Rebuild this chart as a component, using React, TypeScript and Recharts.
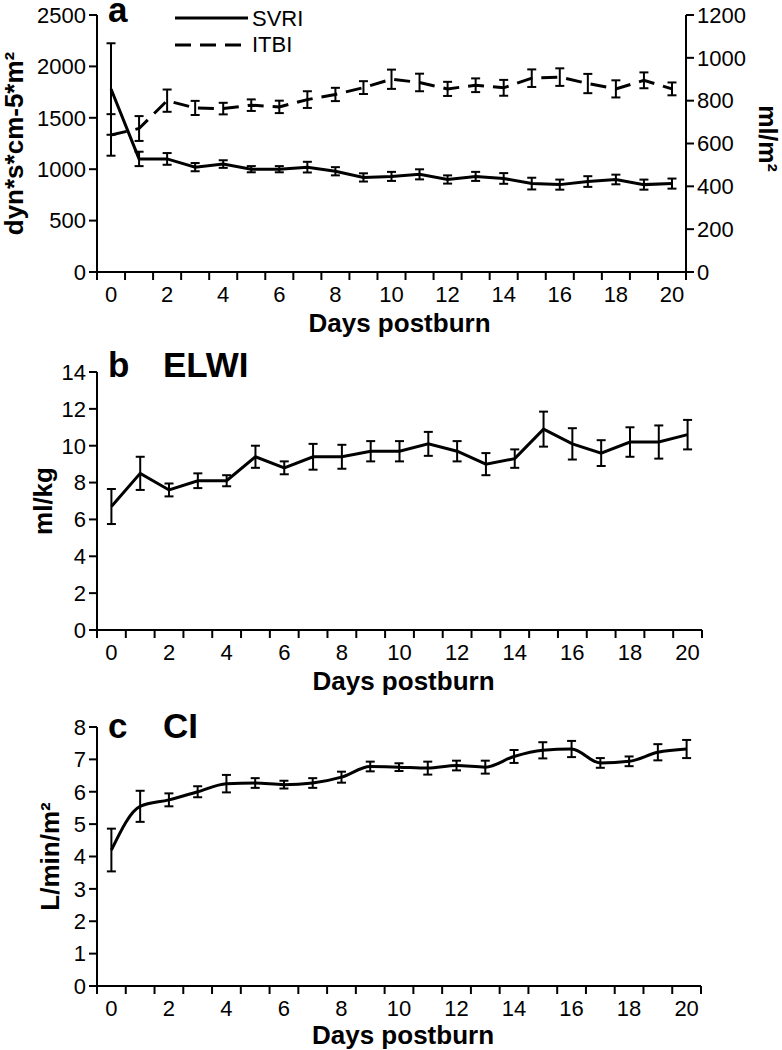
import React from "react";
import { ErrorBar, Legend, Line, LineChart, XAxis, YAxis } from "recharts";

const font = "'Liberation Sans', Arial, Helvetica, sans-serif";

// days postburn
const days = [0, 1, 2, 3, 4, 5, 6, 7, 8, 9, 10, 11, 12, 13, 14, 15, 16, 17, 18, 19, 20];
const dayLabels = [0, 2, 4, 6, 8, 10, 12, 14, 16, 18, 20];

// panel a
const seriesA = ["SVRI", "ITBI"];
const svriMean = [1780, 1100, 1100, 1020, 1050, 1000, 1000, 1020, 980, 920, 930, 950, 900, 930, 910, 860, 850, 880, 900, 850, 860];
const svriErr = [445, 70, 57, 40, 37, 30, 30, 52, 40, 40, 44, 49, 40, 44, 52, 57, 49, 52, 47, 49, 49];
const itbiMean = [640, 670, 800, 766, 763, 779, 771, 805, 829, 861, 900, 885, 855, 872, 860, 905, 910, 880, 855, 895, 855];
const itbiErr = [97, 58, 52, 33, 27, 27, 29, 39, 31, 30, 45, 41, 33, 32, 37, 41, 41, 45, 40, 37, 30];
const leftTicksA = [0, 500, 1000, 1500, 2000, 2500];
const rightTicksA = [0, 200, 400, 600, 800, 1000, 1200];

// panel b
const elwiMean = [6.7, 8.5, 7.6, 8.1, 8.1, 9.4, 8.8, 9.4, 9.4, 9.7, 9.7, 10.1, 9.7, 9.0, 9.3, 10.9, 10.1, 9.6, 10.2, 10.2, 10.6];
const elwiErr = [0.95, 0.9, 0.35, 0.4, 0.3, 0.6, 0.35, 0.7, 0.65, 0.55, 0.55, 0.65, 0.55, 0.6, 0.5, 0.95, 0.85, 0.7, 0.8, 0.9, 0.8];
const ticksB = [0, 2, 4, 6, 8, 10, 12, 14];

// panel c
const ciMean = [4.2, 5.55, 5.75, 6.0, 6.25, 6.27, 6.22, 6.27, 6.45, 6.78, 6.76, 6.73, 6.81, 6.76, 7.09, 7.28, 7.32, 6.89, 6.94, 7.22, 7.32];
const ciErr = [0.66, 0.48, 0.2, 0.17, 0.27, 0.15, 0.12, 0.15, 0.17, 0.15, 0.12, 0.2, 0.15, 0.2, 0.2, 0.25, 0.25, 0.15, 0.15, 0.25, 0.28];
const ticksC = [0, 1, 2, 3, 4, 5, 6, 7, 8];

const dataA = days.map((d, i) => ({ day: d, svri: svriMean[i], svriErr: svriErr[i], itbi: itbiMean[i], itbiErr: itbiErr[i] }));
const dataB = days.map((d, i) => ({ day: d, elwi: elwiMean[i], err: elwiErr[i] }));
const dataC = days.map((d, i) => ({ day: d, ci: ciMean[i], err: ciErr[i] }));

// tick marks sit between days, labels on even days
const boundaries = [days[0] - 0.5, ...days.map((d) => d + 0.5)];
const xTicks = [...boundaries, ...dayLabels].sort((a, b) => a - b);

const DayTick = (props: any) => {
  const { x, y, payload } = props;
  const v = payload.value;
  if (!Number.isInteger(v)) {
    return <line x1={x} y1={y} x2={x} y2={y + 8} stroke="#000" strokeWidth={2} />;
  }
  if (!dayLabels.includes(v)) return <g />;
  return (
    <text x={x} y={y + 30} textAnchor="middle" fontSize={22} fill="#000" fontFamily={font}>
      {v}
    </text>
  );
};

const BottomTitle = (props: any) => {
  const vb = props.viewBox || { x: 0, y: 0, width: 0, height: 0 };
  return (
    <text x={vb.x + vb.width / 2 + (props.shift || 0)} y={vb.y + props.dy} textAnchor="middle" fontSize={26} fontWeight="bold" fill="#000" fontFamily={font}>
      Days postburn
    </text>
  );
};

const LeftTitle = (props: any) => {
  const vb = props.viewBox || { x: 0, y: 0, width: 0, height: 0 };
  const { unit, baseX, letter, title, headDy } = props;
  const cy = vb.y + vb.height / 2;
  const right = vb.x + vb.width;
  return (
    <g fontFamily={font} fill="#000" fontWeight="bold">
      <text transform={`translate(${baseX},${cy}) rotate(-90)`} textAnchor="middle" fontSize={26}>
        {unit}
      </text>
      <text x={right + 11} y={vb.y + headDy} fontSize={35}>
        {letter}
      </text>
      {title ? (
        <text x={right + 66} y={vb.y + headDy} fontSize={35}>
          {title}
        </text>
      ) : null}
    </g>
  );
};

const RightTitle = (props: any) => {
  const vb = props.viewBox || { x: 0, y: 0, width: 0, height: 0 };
  const cy = vb.y + vb.height / 2 - 5;
  return (
    <text transform={`translate(${vb.x + 73},${cy}) rotate(90)`} textAnchor="middle" fontSize={25} fontWeight="bold" fill="#000" fontFamily={font}>
      ml/m²
    </text>
  );
};

const SeriesKey = (props: any) => {
  const items = [...(props.payload || [])].sort((a: any, b: any) => seriesA.indexOf(a.value) - seriesA.indexOf(b.value));
  return (
    <svg width={220} height={60} style={{ display: "block" }}>
      {items.map((p: any, i: number) => (
        <g key={p.value}>
          <line x1={5} y1={18 + i * 27} x2={78} y2={18 + i * 27} stroke="#000" strokeWidth={3} strokeDasharray={p.payload?.strokeDasharray} />
          <text x={82} y={26 + i * 26} fontSize={22} fill="#000" fontFamily={font}>
            {p.value}
          </text>
        </g>
      ))}
    </svg>
  );
};

const axisLine = { stroke: "#000", strokeWidth: 2 };
const tickLine = { stroke: "#000", strokeWidth: 2 };
const yTick = { fontSize: 22, fill: "#000", fontFamily: font };

const DaysAxis = (dy: number, height: number, shift = 0) => (
  <XAxis
    dataKey="day"
    type="number"
    domain={[-0.5, 20.5]}
    ticks={xTicks}
    interval={0}
    tick={<DayTick />}
    tickLine={false}
    tickSize={0}
    tickMargin={0}
    axisLine={axisLine}
    height={height}
    label={<BottomTitle dy={dy} shift={shift} />}
  />
);

export default function App() {
  return (
    <div style={{ position: "absolute", left: 0, top: 0, width: 782, height: 1050, background: "#fff" }}>
      <div style={{ position: "absolute", left: 0, top: 0 }}>
        <LineChart width={782} height={340} data={dataA} margin={{ top: 15, right: 0, bottom: 0, left: 0 }}>
          {DaysAxis(60, 68, 8)}
          <YAxis
            yAxisId="left"
            domain={[0, 2500]}
            ticks={leftTicksA}
            interval={0}
            width={97}
            tick={yTick}
            tickSize={8}
            tickMargin={3}
            tickLine={tickLine}
            axisLine={axisLine}
            label={<LeftTitle unit="dyn*s*cm-5*m²" baseX={23} letter="a" headDy={7} />}
          />
          <YAxis
            yAxisId="right"
            orientation="right"
            domain={[0, 1200]}
            ticks={rightTicksA}
            interval={0}
            width={96}
            tick={yTick}
            tickSize={8}
            tickMargin={3}
            tickLine={tickLine}
            axisLine={axisLine}
            label={<RightTitle />}
          />
          <Legend
            layout="vertical"
            align="center"
            verticalAlign="middle"
            content={<SeriesKey />}
            wrapperStyle={{ position: "absolute", left: 170, top: 0, width: 220, height: 60 }}
          />
          <Line yAxisId="left" name="SVRI" dataKey="svri" stroke="#000" strokeWidth={3} dot={false} isAnimationActive={false}>
            <ErrorBar dataKey="svriErr" width={4.5} stroke="#000" strokeWidth={2} direction="y" isAnimationActive={false} />
          </Line>
          <Line yAxisId="right" name="ITBI" dataKey="itbi" stroke="#000" strokeWidth={3} strokeDasharray="16 9" dot={false} isAnimationActive={false}>
            <ErrorBar dataKey="itbiErr" width={4.5} stroke="#000" strokeWidth={2} direction="y" isAnimationActive={false} />
          </Line>
        </LineChart>
      </div>

      <div style={{ position: "absolute", left: 0, top: 340 }}>
        <LineChart width={782} height={360} data={dataB} margin={{ top: 32, right: 80, bottom: 0, left: 0 }}>
          {DaysAxis(60, 70, 4)}
          <YAxis
            domain={[0, 14]}
            ticks={ticksB}
            interval={0}
            width={97}
            tick={yTick}
            tickSize={8}
            tickMargin={3}
            tickLine={tickLine}
            axisLine={axisLine}
            label={<LeftTitle unit="ml/kg" baseX={52} letter="b" title="ELWI" headDy={5} />}
          />
          <Line name="ELWI" dataKey="elwi" stroke="#000" strokeWidth={3} dot={false} isAnimationActive={false}>
            <ErrorBar dataKey="err" width={4.5} stroke="#000" strokeWidth={2} direction="y" isAnimationActive={false} />
          </Line>
        </LineChart>
      </div>

      <div style={{ position: "absolute", left: 0, top: 700 }}>
        <LineChart width={782} height={350} data={dataC} margin={{ top: 27, right: 81, bottom: 0, left: 0 }}>
          {DaysAxis(58, 64, 4)}
          <YAxis
            domain={[0, 8]}
            ticks={ticksC}
            interval={0}
            width={97}
            tick={yTick}
            tickSize={8}
            tickMargin={3}
            tickLine={tickLine}
            axisLine={axisLine}
            label={<LeftTitle unit="L/min/m²" baseX={59} letter="c" title="CI" headDy={11} />}
          />
          <Line type="monotone" name="CI" dataKey="ci" stroke="#000" strokeWidth={3} dot={false} isAnimationActive={false}>
            <ErrorBar dataKey="err" width={4.5} stroke="#000" strokeWidth={2} direction="y" isAnimationActive={false} />
          </Line>
        </LineChart>
      </div>
    </div>
  );
}
